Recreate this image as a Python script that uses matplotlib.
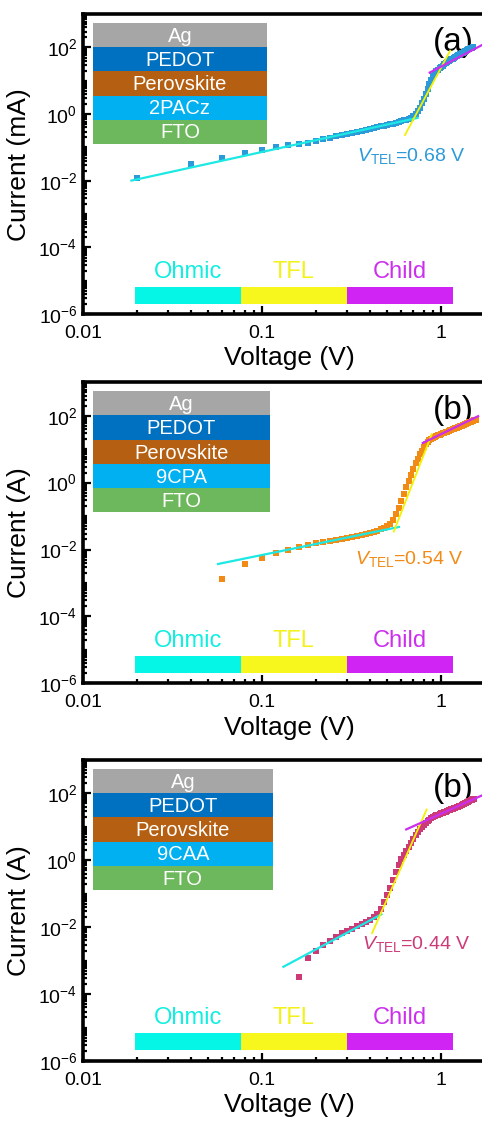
import matplotlib
matplotlib.use("Agg")
import matplotlib.pyplot as plt
import matplotlib.patches as patches
from matplotlib.ticker import FixedLocator, LogLocator, NullFormatter, LogFormatterSciNotation

plt.rcParams['font.family'] = ['Liberation Sans', 'DejaVu Sans']
plt.rcParams['mathtext.fontset'] = 'custom'
plt.rcParams['mathtext.rm'] = 'Liberation Sans'
plt.rcParams['mathtext.it'] = 'Liberation Sans:italic'
plt.rcParams['mathtext.default'] = 'regular'

# device stacks (top to bottom)
layers_a = ["Ag", "PEDOT", "Perovskite", "2PACz", "FTO"]
layers_b = ["Ag", "PEDOT", "Perovskite", "9CPA", "FTO"]
layers_c = ["Ag", "PEDOT", "Perovskite", "9CAA", "FTO"]
layer_colors = ["#A6A6A6", "#0070C0", "#B45F12", "#00B0F0", "#6DB85C"]

regimes = ["Ohmic", "TFL", "Child"]
regime_colors = ["#05F5E6", "#F7F71E", "#D024F5"]
regime_text_colors = ["#12EEE0", "#F2F21A", "#CC30EE"]

# 2PACz, current in mA
volt_a = [0.02, 0.04, 0.06, 0.08, 0.10, 0.12, 0.14, 0.16, 0.18, 0.20,
          0.22, 0.24, 0.26, 0.28, 0.30, 0.32, 0.34, 0.36, 0.38, 0.40,
          0.42, 0.44, 0.46, 0.48, 0.50, 0.52, 0.54, 0.56, 0.58, 0.60,
          0.62, 0.64, 0.66, 0.68, 0.70, 0.72, 0.74, 0.76, 0.78, 0.80,
          0.82, 0.84, 0.86, 0.88, 0.90, 0.92, 0.94, 0.96, 0.98, 1.00,
          1.02, 1.04, 1.06, 1.08, 1.10, 1.12, 1.14, 1.16, 1.18, 1.20,
          1.22, 1.24, 1.26, 1.28, 1.30, 1.32, 1.34, 1.36, 1.38, 1.40,
          1.42, 1.44, 1.46, 1.48, 1.50]
curr_a = [0.0123, 0.032, 0.050, 0.069, 0.085, 0.105, 0.12, 0.13, 0.14, 0.16,
          0.178, 0.195, 0.214, 0.234, 0.257, 0.275, 0.295, 0.316, 0.339, 0.363,
          0.380, 0.407, 0.427, 0.447, 0.468, 0.490, 0.513, 0.537, 0.575, 0.617,
          0.646, 0.676, 0.724, 0.776, 0.851, 1.00, 1.26, 1.58, 2.09, 2.82,
          3.98, 5.62, 7.94, 10.7, 13.8, 16.6, 19.1, 21.4, 24.0, 26.3,
          28.2, 30.9, 33.1, 35.5, 38.0, 40.7, 43.7, 45.7, 49.0, 52.5,
          55.0, 57.5, 60.3, 63.1, 66.1, 69.2, 72.4, 75.9, 79.4, 83.2,
          87.1, 89.1, 93.3, 95.5, 100.0]

# 9CPA, current in A
volt_b = [0.06, 0.08, 0.10, 0.12, 0.14, 0.16, 0.18, 0.20,
          0.22, 0.24, 0.26, 0.28, 0.30, 0.32, 0.34, 0.36, 0.38, 0.40,
          0.42, 0.44, 0.46, 0.48, 0.50, 0.52, 0.54, 0.56, 0.58, 0.60,
          0.62, 0.64, 0.66, 0.68, 0.70, 0.72, 0.74, 0.76, 0.78, 0.80,
          0.82, 0.84, 0.86, 0.88, 0.90, 0.92, 0.94, 0.96, 0.98, 1.00,
          1.02, 1.04, 1.06, 1.08, 1.10, 1.12, 1.14, 1.16, 1.18, 1.20,
          1.22, 1.24, 1.26, 1.28, 1.30, 1.32, 1.34, 1.36, 1.38, 1.40,
          1.42, 1.44, 1.46, 1.48, 1.50, 1.52, 1.54, 1.56]
curr_b = [0.0013, 0.0036, 0.0057, 0.0076, 0.0095, 0.0115, 0.0135, 0.0155,
          0.0170, 0.0182, 0.0195, 0.0204, 0.0214, 0.0229, 0.0245, 0.0263, 0.0282, 0.0309,
          0.0331, 0.0363, 0.0398, 0.0447, 0.050, 0.0575, 0.075, 0.112, 0.178, 0.29,
          0.46, 0.72, 1.12, 1.74, 2.63, 3.80, 5.25, 7.1, 9.1, 11.5,
          13.8, 16.2, 18.2, 20.0, 21.9, 23.4, 24.5, 25.7, 27.0, 28.2,
          29.5, 30.9, 32.4, 33.5, 35.0, 36.3, 37.6, 38.9, 40.3, 41.7,
          43.2, 44.7, 46.2, 47.9, 49.5, 51.3, 53.0, 55.0, 57.0, 58.9,
          61.0, 63.1, 65.5, 68.0, 70.5, 73.0, 75.9, 72.0]

# 9CAA, current in A
volt_c = [0.16, 0.18, 0.20,
          0.22, 0.24, 0.26, 0.28, 0.30, 0.32, 0.34, 0.36, 0.38, 0.40,
          0.42, 0.44, 0.46, 0.48, 0.50, 0.52, 0.54, 0.56, 0.58, 0.60,
          0.62, 0.64, 0.66, 0.68, 0.70, 0.72, 0.74, 0.76, 0.78, 0.80,
          0.82, 0.84, 0.86, 0.88, 0.90, 0.92, 0.94, 0.96, 0.98, 1.00,
          1.02, 1.04, 1.06, 1.08, 1.10, 1.12, 1.14, 1.16, 1.18, 1.20,
          1.22, 1.24, 1.26, 1.28, 1.30, 1.32, 1.34, 1.36, 1.38, 1.40,
          1.42, 1.44, 1.46, 1.48, 1.50, 1.52]
curr_c = [0.00033, 0.0012, 0.0020,
          0.00295, 0.00398, 0.00525, 0.0066, 0.0079, 0.0091, 0.0105, 0.0123, 0.0141, 0.0166,
          0.020, 0.025, 0.036, 0.056, 0.089, 0.150, 0.26, 0.44, 0.72, 1.07,
          1.45, 1.91, 2.45, 3.31, 4.27, 5.62, 6.92, 8.32, 9.77, 11.2,
          12.9, 14.5, 16.2, 17.8, 19.1, 20.4, 21.9, 22.9, 24.0, 25.1,
          26.3, 26.9, 28.2, 29.5, 30.9, 31.6, 33.1, 34.7, 35.5, 37.2,
          38.0, 39.8, 40.7, 42.7, 44.7, 46.8, 47.9, 50.1, 52.5, 53.7,
          56.2, 58.9, 61.7, 64.6, 67.6, 69.2]

# linear fits in log-log space: (V endpoints, I endpoints)
ohmic_fit_a = ([0.0184, 0.75], [0.0100, 0.786])
tfl_fit_a = ([0.625, 1.13], [0.224, 85.0])
child_fit_a = ([0.853, 1.8], [17.0, 141.0])

ohmic_fit_b = ([0.056, 0.59], [0.00363, 0.0479])
tfl_fit_b = ([0.542, 0.89], [0.0324, 29.5])
child_fit_b = ([0.78, 1.63], [14.8, 100.0])

ohmic_fit_c = ([0.13, 0.47], [0.00063, 0.0251])
tfl_fit_c = ([0.41, 0.834], [0.0063, 34.7])
child_fit_c = ([0.63, 1.74], [8.1, 93.0])

vtel = [0.68, 0.54, 0.44]

FIT_COLORS = {"ohmic": "#1CE8E4", "tfl": "#F2F200", "child": "#CC2EF0"}


def draw_panel(ax, volt, curr, color, fits, layers, stack_right, ylabel, tag, v_tel, v_pos):
    ax.plot(volt, curr, 's', color=color, markersize=5.0, markeredgewidth=0, zorder=3)

    for key, (fv, fi) in zip(["ohmic", "tfl", "child"], fits):
        ax.plot(fv, fi, '-', color=FIT_COLORS[key], lw=1.6 if key != "tfl" else 1.3,
                zorder=4, solid_capstyle='butt')

    ax.set_xscale('log')
    ax.set_yscale('log')
    ax.set_xlim(0.01, 2)
    ax.set_ylim(1e-6, 1e3)

    ax.xaxis.set_major_locator(FixedLocator([0.01, 0.1, 1]))
    ax.xaxis.set_minor_locator(LogLocator(base=10, subs=range(2, 10), numticks=20))
    ax.xaxis.set_minor_formatter(NullFormatter())
    ax.set_xticklabels(["0.01", "0.1", "1"])
    ax.yaxis.set_major_locator(FixedLocator([1e-6, 1e-4, 1e-2, 1, 1e2]))
    ax.yaxis.set_major_formatter(LogFormatterSciNotation())
    ax.yaxis.set_minor_locator(LogLocator(base=10, subs=range(1, 10), numticks=30))
    ax.yaxis.set_minor_formatter(NullFormatter())

    ax.tick_params(which='both', direction='in', top=False, right=False, width=1.6,
                   labelsize=14)
    ax.tick_params(axis='x', pad=8)
    ax.tick_params(axis='y', pad=4)
    ax.tick_params(which='major', length=5.5)
    ax.tick_params(which='minor', length=3)
    for s in ax.spines.values():
        s.set_linewidth(2.6)

    ax.set_xlabel("Voltage (V)", fontsize=19, labelpad=3)
    ax.set_ylabel(ylabel, fontsize=19, labelpad=5)

    # layer stack drawn in axes fraction
    n = len(layers)
    top, bottom = 0.97, 0.568
    h = (top - bottom) / n
    for i, (name, c) in enumerate(zip(layers, layer_colors)):
        y0 = top - (i + 1) * h
        ax.add_patch(patches.Rectangle((0.024, y0), stack_right - 0.024, h,
                                       transform=ax.transAxes, facecolor=c,
                                       edgecolor='none', zorder=5))
        ax.text((0.024 + stack_right) / 2, y0 + h / 2 - 0.004, name, transform=ax.transAxes,
                ha='center', va='center', color='white', fontsize=14.5, zorder=6)

    # conduction regime bar
    x0, x1 = 0.127, 0.897
    w = (x1 - x0) / len(regimes)
    for i, (name, c, tc) in enumerate(zip(regimes, regime_colors, regime_text_colors)):
        ax.add_patch(patches.Rectangle((x0 + i * w, 0.035), w, 0.057,
                                       transform=ax.transAxes, facecolor=c,
                                       edgecolor='none', zorder=5))
        ax.text(x0 + (i + 0.5) * w, 0.122, name, transform=ax.transAxes,
                ha='center', va='baseline', color=tc, fontsize=17, zorder=6)

    ax.text(0.90, 0.905, tag, transform=ax.transAxes, ha='center', va='center',
            fontsize=24, zorder=2)
    ax.text(v_pos[0], v_pos[1], r"$\mathit{V}_{\mathrm{TEL}}$=%.2f V" % v_tel,
            color=color, fontsize=14, ha='left', va='baseline', zorder=6)


fig = plt.figure(figsize=(4.82, 11.22), dpi=100)

ax_a = fig.add_axes([0.172, 0.720, 0.855, 0.2674])
ax_b = fig.add_axes([0.172, 0.391, 0.855, 0.2683])
ax_c = fig.add_axes([0.172, 0.0544, 0.855, 0.2683])

draw_panel(ax_a, volt_a, curr_a, "#2C9AD8", [ohmic_fit_a, tfl_fit_a, child_fit_a],
           layers_a, 0.447, "Current (mA)", "(a)", vtel[0], (0.34, 0.04))
draw_panel(ax_b, volt_b, curr_b, "#F28A16", [ohmic_fit_b, tfl_fit_b, child_fit_b],
           layers_b, 0.454, "Current (A)", "(b)", vtel[1], (0.33, 0.0037))
draw_panel(ax_c, volt_c, curr_c, "#CC3A78", [ohmic_fit_c, tfl_fit_c, child_fit_c],
           layers_c, 0.461, "Current (A)", "(b)", vtel[2], (0.36, 0.0023))

fig.savefig("out.png", dpi=100)
